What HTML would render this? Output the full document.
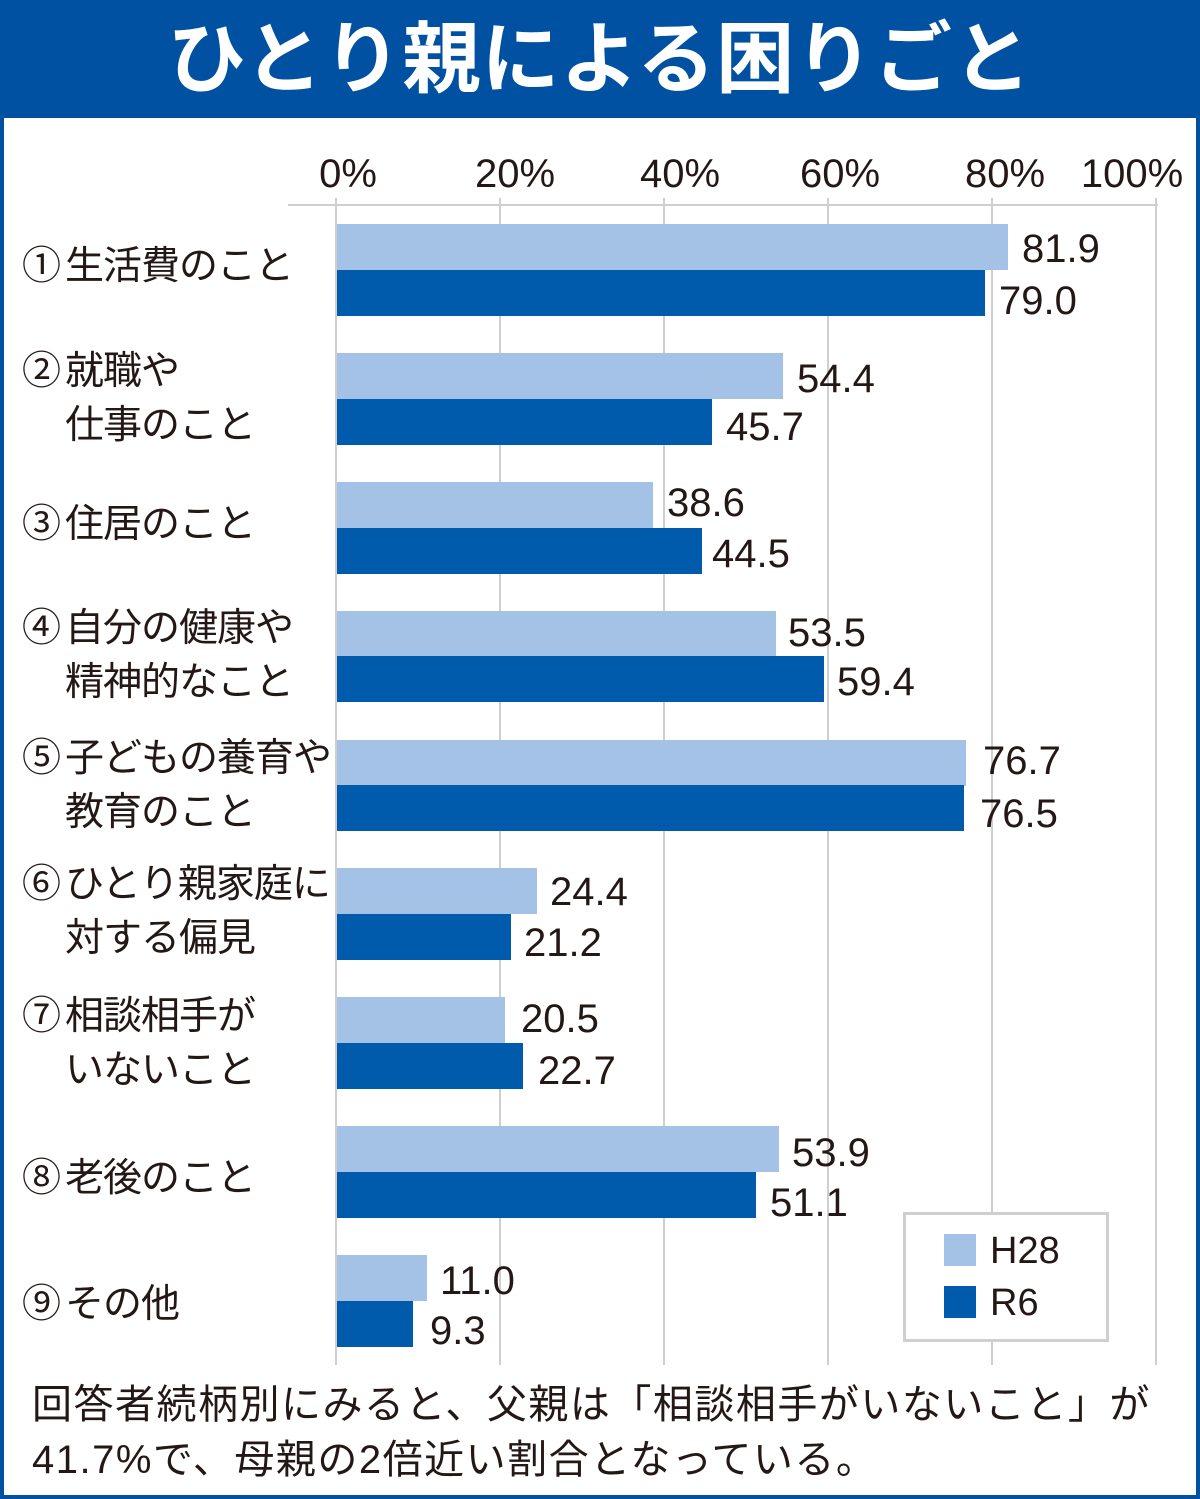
<!DOCTYPE html>
<html><head><meta charset="utf-8"><style>
body{margin:0;width:1200px;height:1499px;position:relative;background:#fff;overflow:hidden;font-family:"Liberation Sans","Noto Sans CJK JP",sans-serif;color:#231815}
.a{position:absolute}
.frame{left:0;top:0;width:1192px;height:1491px;border:4px solid #0051a2}
.title{left:0;top:0;width:1200px;height:118px;background:#0051a2;color:#fff;font-weight:bold;font-size:78px;text-align:center;line-height:118px;letter-spacing:1px}
.g{width:2px;background:#cfcfcf;top:198px;height:1167px}
.tick{font-size:40px;top:150px;width:160px;text-align:center;line-height:48px}
.l{background:#a4c2e6;left:337px;height:46px}
.d{background:#005bac;left:337px;height:46px}
.v{font-size:40px;line-height:46px}
.c{font-size:39px;left:22px;line-height:54px;white-space:nowrap;letter-spacing:-1px}
.c span{display:inline-block;width:43px}
.foot{left:32px;font-size:40px;line-height:54px;white-space:nowrap;letter-spacing:1.5px}
</style></head><body>
<div class="a frame"></div>
<div class="a title">ひとり親による困りごと</div>

<div class="a" style="left:288px;top:204px;width:870px;height:2px;background:#cfcfcf"></div>
<div class="a g" style="left:335px"></div>
<div class="a g" style="left:499px"></div>
<div class="a g" style="left:663px"></div>
<div class="a g" style="left:827px"></div>
<div class="a g" style="left:991px"></div>
<div class="a g" style="left:1155px"></div>

<div class="a tick" style="left:268px">0%</div>
<div class="a tick" style="left:435px">20%</div>
<div class="a tick" style="left:600px">40%</div>
<div class="a tick" style="left:760px">60%</div>
<div class="a tick" style="left:925px">80%</div>
<div class="a tick" style="left:1052px">100%</div>

<div class="a l" style="top:224px;width:671px"></div><div class="a v" style="top:226px;left:1022px">81.9</div>
<div class="a d" style="top:270px;width:648px"></div><div class="a v" style="top:278px;left:999px">79.0</div>
<div class="a l" style="top:353px;width:446px"></div><div class="a v" style="top:356px;left:797px">54.4</div>
<div class="a d" style="top:399px;width:375px"></div><div class="a v" style="top:404px;left:726px">45.7</div>
<div class="a l" style="top:482px;width:316px"></div><div class="a v" style="top:480px;left:667px">38.6</div>
<div class="a d" style="top:528px;width:365px"></div><div class="a v" style="top:531px;left:712px">44.5</div>
<div class="a l" style="top:611px;width:439px"></div><div class="a v" style="top:610px;left:788px">53.5</div>
<div class="a d" style="top:656px;width:487px"></div><div class="a v" style="top:659px;left:837px">59.4</div>
<div class="a l" style="top:740px;width:629px"></div><div class="a v" style="top:738px;left:983px">76.7</div>
<div class="a d" style="top:785px;width:627px"></div><div class="a v" style="top:791px;left:980px">76.5</div>
<div class="a l" style="top:868px;width:200px"></div><div class="a v" style="top:869px;left:550px">24.4</div>
<div class="a d" style="top:914px;width:174px"></div><div class="a v" style="top:920px;left:524px">21.2</div>
<div class="a l" style="top:997px;width:168px"></div><div class="a v" style="top:996px;left:521px">20.5</div>
<div class="a d" style="top:1043px;width:186px"></div><div class="a v" style="top:1048px;left:538px">22.7</div>
<div class="a l" style="top:1126px;width:442px"></div><div class="a v" style="top:1130px;left:792px">53.9</div>
<div class="a d" style="top:1172px;width:419px"></div><div class="a v" style="top:1180px;left:770px">51.1</div>
<div class="a l" style="top:1255px;width:90px"></div><div class="a v" style="top:1258px;left:440px">11.0</div>
<div class="a d" style="top:1301px;width:76px"></div><div class="a v" style="top:1308px;left:430px">9.3</div>

<div class="a c" style="top:240px"><span>①</span>生活費のこと</div>
<div class="a c" style="top:345px"><span>②</span>就職や<br><span></span>仕事のこと</div>
<div class="a c" style="top:498px"><span>③</span>住居のこと</div>
<div class="a c" style="top:602px"><span>④</span>自分の健康や<br><span></span>精神的なこと</div>
<div class="a c" style="top:732px"><span>⑤</span>子どもの養育や<br><span></span>教育のこと</div>
<div class="a c" style="top:858px"><span>⑥</span>ひとり親家庭に<br><span></span>対する偏見</div>
<div class="a c" style="top:990px"><span>⑦</span>相談相手が<br><span></span>いないこと</div>
<div class="a c" style="top:1152px"><span>⑧</span>老後のこと</div>
<div class="a c" style="top:1278px"><span>⑨</span>その他</div>

<div class="a" style="left:903px;top:1212px;width:200px;height:124px;border:3px solid #cfcfcf;background:#fff"></div>
<div class="a" style="left:944px;top:1234px;width:32px;height:32px;background:#a4c2e6"></div>
<div class="a" style="left:944px;top:1286px;width:32px;height:32px;background:#005bac"></div>
<div class="a v" style="left:990px;top:1228px;font-size:38px">H28</div>
<div class="a v" style="left:990px;top:1280px;font-size:38px">R6</div>

<div class="a foot" style="top:1378px">回答者続柄別にみると、父親は「相談相手がいないこと」が</div>
<div class="a foot" style="top:1433px">41.7%で、母親の2倍近い割合となっている。</div>
</body></html>
